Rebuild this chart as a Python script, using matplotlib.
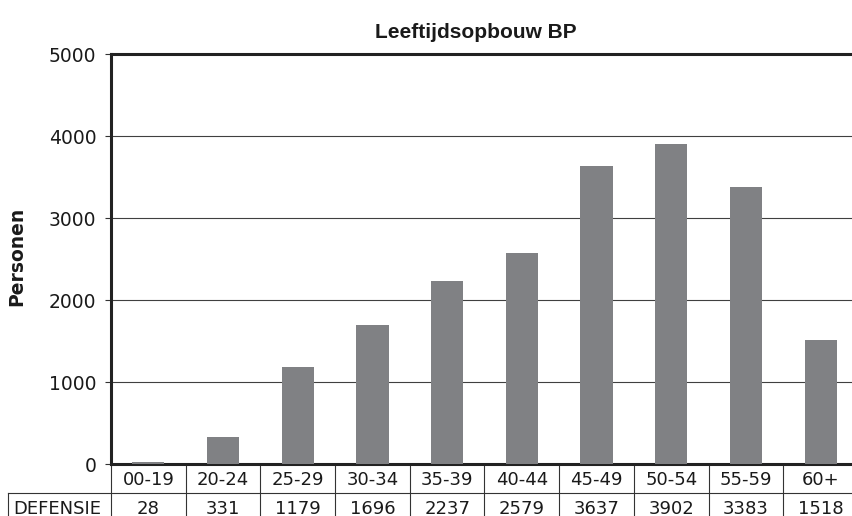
import matplotlib
matplotlib.use("Agg")
import matplotlib.pyplot as plt
from matplotlib.transforms import blended_transform_factory

# ── data ──────────────────────────────────────────────────────────────────────
age_groups = ["00-19", "20-24", "25-29", "30-34", "35-39",
              "40-44", "45-49", "50-54", "55-59", "60+"]
personen = [28, 331, 1179, 1696, 2237, 2579, 3637, 3902, 3383, 1518]
row_label = "DEFENSIE"
y_ticks = [0, 1000, 2000, 3000, 4000, 5000]

C_BAR = "#808184"
C_LINE = "#333333"
C_TEXT = "#1a1a1a"

W, H = 853, 516
fig = plt.figure(figsize=(W / 100, H / 100), dpi=100)
# axes in pixel units: left 111, bottom 464 (from top), height 410, col width ~74.7
ax = fig.add_axes([111 / W, (H - 464) / H, 747 / W, 410 / H])

x = list(range(len(age_groups)))
ax.bar(x, personen, width=0.43, color=C_BAR, zorder=3)

ax.set_xlim(-0.5, len(age_groups) - 0.5)
ax.set_ylim(0, 5000)
ax.set_yticks(y_ticks)
ax.set_yticklabels([str(t) for t in y_ticks], fontsize=13.5, color=C_TEXT)
ax.set_xticks([])
ax.yaxis.grid(True, color="#404040", linewidth=0.8, zorder=0)
ax.tick_params(axis="y", direction="out", length=4.5, width=0.8,
               color=C_LINE, pad=6)

for side in ["top", "left", "bottom"]:
    ax.spines[side].set_linewidth(2.2)
    ax.spines[side].set_color("#222222")
ax.spines["right"].set_visible(False)

# y label and title placed in figure pixels
fig.text(17 / W, 1 - 256 / H, "Personen", rotation=90, ha="center", va="center",
         fontsize=13.5, fontweight="bold", color=C_TEXT)
fig.text(476 / W, 1 - 32 / H, "Leeftijdsopbouw BP", ha="center", va="center",
         fontsize=15, fontweight="bold", family="Liberation Sans", color=C_TEXT)

# ── data table under the axis ────────────────────────────────────────────────
tr = blended_transform_factory(ax.transData, ax.transAxes)
px = 1 / 410          # one pixel in axes-fraction units
row1_bot = -29 * px
row2_bot = -80 * px
left_cell = -0.5 - 103 / 74.7

lkw = dict(color=C_LINE, linewidth=0.8, transform=tr, clip_on=False)
# vertical lines through both rows
for b in [i - 0.5 for i in range(len(age_groups) + 1)]:
    ax.plot([b, b], [0, row2_bot], **lkw)
ax.plot([left_cell, left_cell], [row1_bot, row2_bot], **lkw)
ax.plot([left_cell, len(age_groups) + 0.5], [row1_bot, row1_bot], **lkw)

for xi, lab, val in zip(x, age_groups, personen):
    ax.text(xi, -16 * px, lab, ha="center", va="center", fontsize=13,
            color=C_TEXT, transform=tr, clip_on=False)
    ax.text(xi, -45 * px, str(val), ha="center", va="center", fontsize=13,
            color=C_TEXT, transform=tr, clip_on=False)
ax.text(left_cell + 5 / 74.7, -45 * px, row_label, ha="left", va="center",
        fontsize=13, color=C_TEXT, transform=tr, clip_on=False)

fig.savefig("out.png", dpi=100)
